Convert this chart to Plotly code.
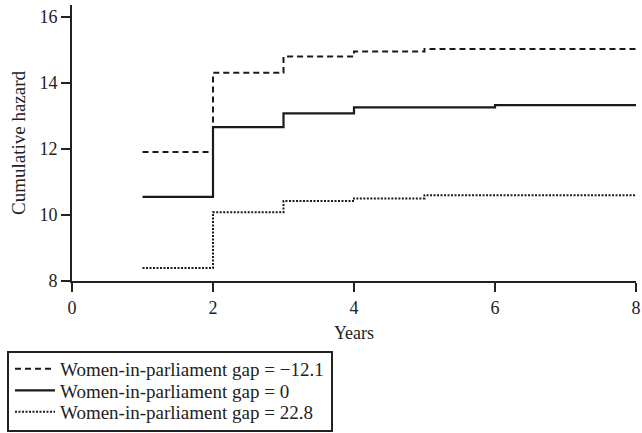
import plotly.graph_objects as go

years_neg = [1, 2, 3, 4, 5, 8]
hazard_neg = [11.91, 14.31, 14.80, 14.95, 15.03, 15.03]
years_zero = [1, 2, 3, 4, 6, 8]
hazard_zero = [10.55, 12.66, 13.08, 13.26, 13.33, 13.33]
years_pos = [1, 2, 3, 4, 5, 8]
hazard_pos = [8.39, 10.08, 10.42, 10.50, 10.60, 10.60]

names = ["Women-in-parliament gap = \u221212.1",
         "Women-in-parliament gap = 0",
         "Women-in-parliament gap = 22.8"]

col = "#1a1a1a"
fig = go.Figure()
fig.add_trace(go.Scatter(x=years_neg, y=hazard_neg, mode="lines", line_shape="hv",
                         line=dict(color=col, width=2, dash="6px,4px"), name=names[0],
                         legend="legend"))
fig.add_trace(go.Scatter(x=years_zero, y=hazard_zero, mode="lines", line_shape="hv",
                         line=dict(color=col, width=2.2), name=names[1],
                         legend="legend2"))
fig.add_trace(go.Scatter(x=years_pos, y=hazard_pos, mode="lines", line_shape="hv",
                         line=dict(color=col, width=2, dash="2px,1.5px"), name=names[2],
                         legend="legend3"))

fam = "Liberation Serif"
tf = dict(family=fam, size=18, color="#222")
lf = dict(family=fam, size=19, color="#222")

# plot area: 72..636 px horizontally, 5..281 px vertically
def px_x(p):
    return (p - 72) / 564.0

def px_y(p):
    return (281 - p) / 276.0

def leg(row_px):
    return dict(x=px_x(10), y=px_y(row_px), xanchor="left", yanchor="middle",
                bgcolor="rgba(0,0,0,0)", borderwidth=0, font=lf, itemwidth=40)

fig.update_layout(
    width=642, height=433,
    margin=dict(l=72, r=6, t=5, b=152, autoexpand=False),
    paper_bgcolor="white", plot_bgcolor="white",
    font=tf,
    showlegend=True,
    legend=leg(369),
    legend2=leg(390.5),
    legend3=leg(412),
    shapes=[dict(type="rect", xref="paper", yref="paper",
                 x0=px_x(8), x1=px_x(332), y0=px_y(431), y1=px_y(352),
                 line=dict(color="#222", width=2), fillcolor="rgba(0,0,0,0)")],
    xaxis=dict(range=[0, 8.0], tickvals=[0, 2, 4, 6, 8], showgrid=False, zeroline=False,
               showline=True, linecolor="#222", linewidth=2, ticks="outside", ticklen=9,
               tickwidth=2, tickcolor="#222", tickfont=tf,
               title=dict(text="Years", standoff=10, font=tf)),
    yaxis=dict(range=[8, 16.36], tickvals=[8, 10, 12, 14, 16], showgrid=False, zeroline=False,
               showline=True, linecolor="#222", linewidth=2, ticks="outside", ticklen=9,
               tickwidth=2, tickcolor="#222", tickfont=tf,
               title=dict(text="Cumulative hazard", standoff=9, font=lf)),
)
fig.write_html("out.html", config={"displayModeBar": False},
               post_script="document.body.style.margin='0';")
